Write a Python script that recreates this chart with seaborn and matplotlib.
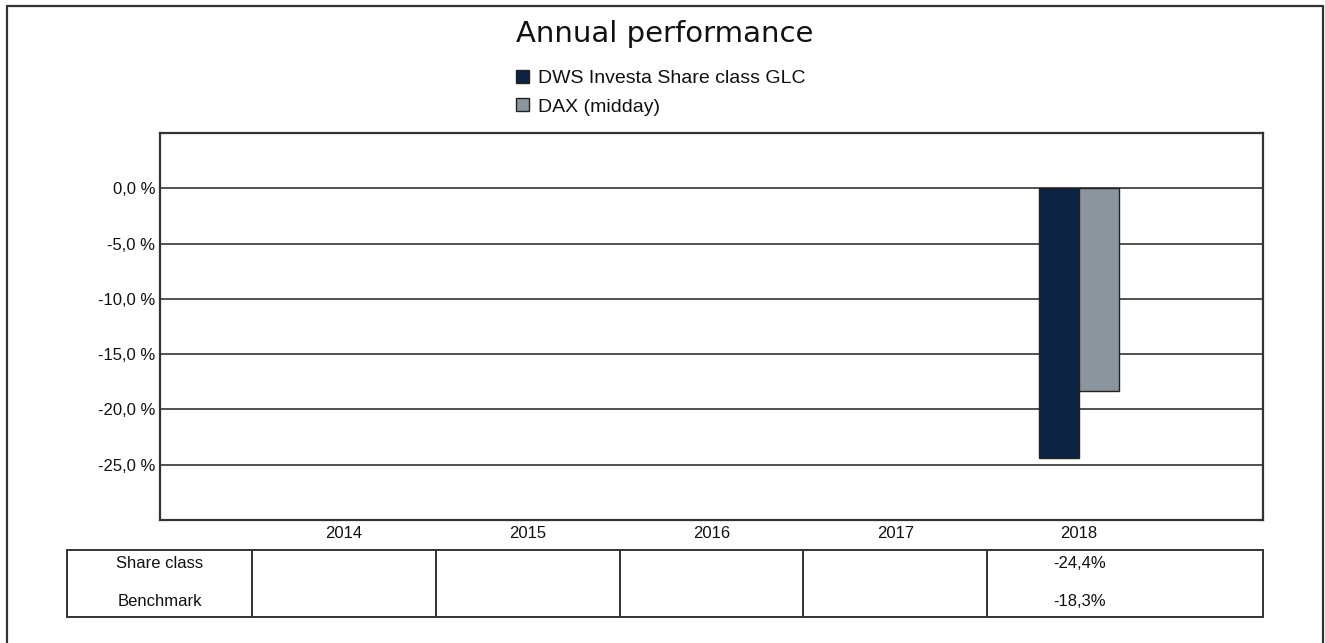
import numpy as np
import pandas as pd
import matplotlib
matplotlib.use('Agg')
import matplotlib.pyplot as plt
import matplotlib.transforms as mtransforms
import seaborn as sns

# chart data
years = ['2014', '2015', '2016', '2017', '2018']
share_class = [np.nan, np.nan, np.nan, np.nan, -24.4]
benchmark = [np.nan, np.nan, np.nan, np.nan, -18.3]
series_names = ['DWS Investa Share class GLC', 'DAX (midday)']
row_labels = ['Share class', 'Benchmark']
y_ticks = [0, -5, -10, -15, -20, -25]
colors = ['#0c2343', '#8b959e']

sns.set_theme(style='white')
plt.rcParams['font.family'] = ['Liberation Sans', 'DejaVu Sans']

df = pd.DataFrame({
    'year': years * 2,
    'value': share_class + benchmark,
    'series': [series_names[0]] * len(years) + [series_names[1]] * len(years),
})

fig = plt.figure(figsize=(13.25, 6.43), dpi=100)
ax = fig.add_axes([160 / 1325, 1 - 520 / 643, 1103 / 1325, 387 / 643])

sns.barplot(data=df, x='year', y='value', hue='series', order=years,
            hue_order=series_names, palette=colors, width=0.435,
            edgecolor='#222222', linewidth=1.0, saturation=1, ax=ax)

ax.set_xlim(-1, 5)
ax.set_ylim(-30, 5)
ax.set_yticks(y_ticks)
ax.set_yticklabels(['%s %%' % ('%.1f' % v).replace('.', ',') for v in y_ticks])
ax.set_xlabel('')
ax.set_ylabel('')
ax.tick_params(axis='y', length=0, labelsize=12, colors='#111111', pad=3.5)
ax.tick_params(axis='x', length=0, labelsize=12, colors='#111111', pad=4)
ax.yaxis.grid(True, color='#222222', linewidth=1.1)
ax.xaxis.grid(False)
ax.set_axisbelow(True)
for sp in ax.spines.values():
    sp.set_color('#333333')
    sp.set_linewidth(1.6)

# legend
handles, labels = ax.get_legend_handles_labels()
leg = ax.legend(handles, labels, loc='upper left', bbox_to_anchor=(516 / 1325, 1 - 70 / 643),
                bbox_transform=fig.transFigure, frameon=False, fontsize=14,
                handlelength=0.67, handleheight=0.67, handletextpad=0.46,
                labelspacing=0.55, borderaxespad=0, borderpad=0)
for t in leg.get_texts():
    t.set_color('#111111')

# title
fig.text(665 / 1325, 1 - 34 / 643, 'Annual performance', ha='center', va='center',
         fontsize=21, family='DejaVu Sans', color='#111111')

# table under the axis (x in data units, y in figure units)
tr = mtransforms.blended_transform_factory(ax.transData, fig.transFigure)
y_top = 1 - 550 / 643
y_bot = 1 - 617 / 643
lk = dict(color='#333333', linewidth=1.4, transform=tr, clip_on=False)
x_left = -1.505
ax.add_line(plt.Line2D([x_left, 5], [y_top, y_top], **lk))
ax.add_line(plt.Line2D([x_left, 5], [y_bot, y_bot], **lk))
for xb in [x_left, -0.5, 0.5, 1.5, 2.5, 3.5, 5]:
    ax.add_line(plt.Line2D([xb, xb], [y_top, y_bot], **lk))

row_y = [1 - 563 / 643, 1 - 602 / 643]
for ry, lab, vals in zip(row_y, row_labels, [share_class, benchmark]):
    ax.text(-1.0, ry, lab, transform=tr, ha='center', va='center', fontsize=12, color='#111111')
    for i, v in enumerate(vals):
        if not np.isnan(v):
            ax.text(i, ry, ('%.1f%%' % v).replace('.', ','), transform=tr,
                    ha='center', va='center', fontsize=12, color='#111111')

# outer frame
fk = dict(color='#333333', linewidth=1.6, transform=fig.transFigure)
fig.add_artist(plt.Line2D([7 / 1325, 1323 / 1325], [1 - 6 / 643, 1 - 6 / 643], **fk))
fig.add_artist(plt.Line2D([7 / 1325, 7 / 1325], [1 - 6 / 643, 0], **fk))
fig.add_artist(plt.Line2D([1323 / 1325, 1323 / 1325], [1 - 6 / 643, 0], **fk))

fig.savefig('out.png', dpi=100)
